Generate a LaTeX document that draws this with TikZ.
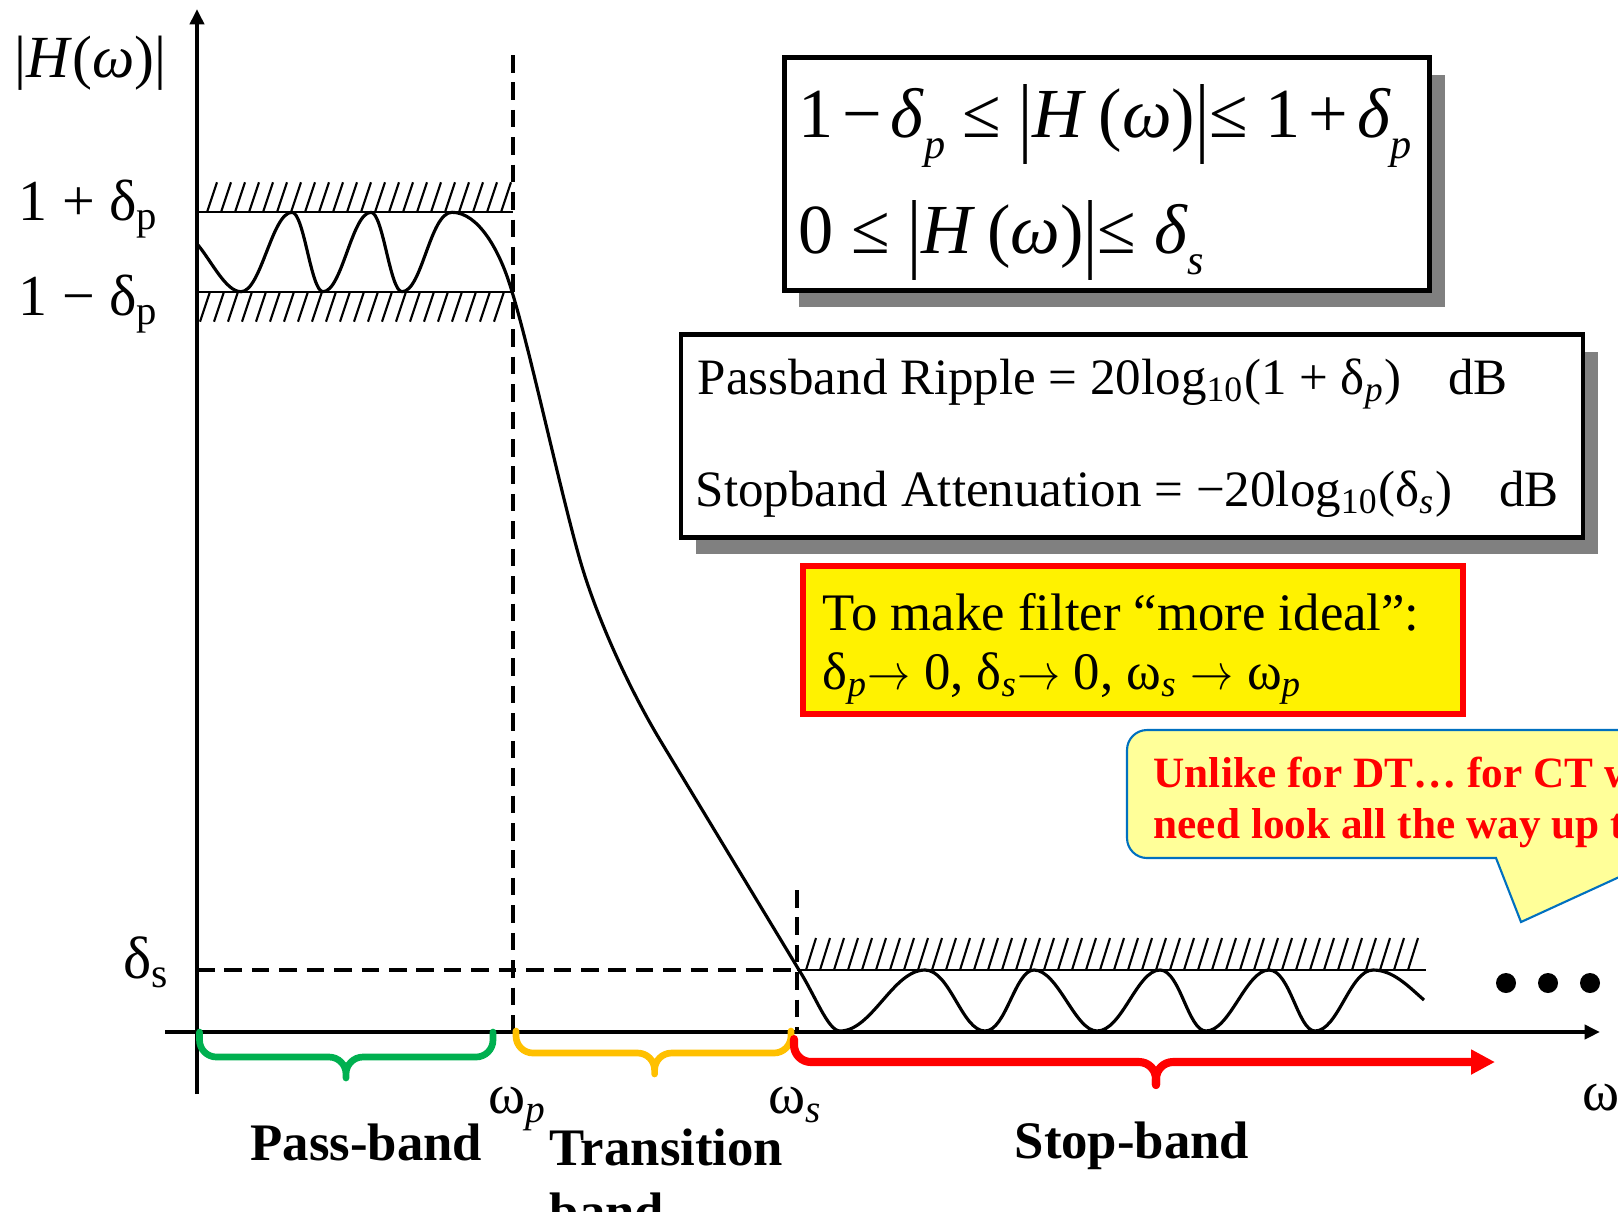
\documentclass[tikz,border=0pt]{standalone}
\usepackage{fontspec}
\setmainfont{Liberation Serif}
\usepackage{graphicx}
\usetikzlibrary{arrows.meta, shadows, positioning}

\definecolor{passgreen}{HTML}{00B050}
\definecolor{transyellow}{HTML}{FFC000}
\definecolor{stopred}{HTML}{FF0000}
\definecolor{notefill}{HTML}{FFFF99}
\definecolor{noteblue}{HTML}{0070C0}
\definecolor{shadegray}{HTML}{808080}

\newcommand{\fs}[1]{\fontsize{#1}{#1}\selectfont}
\newcommand{\lo}[1]{\textsubscript{#1}}
\newcommand{\sublow}[1]{\raisebox{-0.3em}{\fontsize{12}{12}\selectfont\textit{#1}}}
\newcommand{\tbar}{\raisebox{-0.12em}{\scalebox{1}[1.25]{|}}}
\newcommand{\goesto}{\scalebox{0.85}[1]{$\rightarrow$}}
\newcommand{\tsp}{\hspace{0.12em}}

\tikzset{
  lbl/.style={inner sep=0pt, anchor=base west},
  resp/.style={line width=0.9pt, line join=round},
  axisline/.style={line width=1.1pt, -{Triangle[length=4.4pt, width=4pt]}},
  guide/.style={line width=1.1pt, dash pattern=on 5pt off 2.8pt},
  limit/.style={line width=0.6pt},
  hatch/.style={line width=0.6pt},
  bandbrace/.style={line width=1.9pt, line cap=round, rounded corners=0.17cm},
  specbox/.style={draw, line width=1.4pt, fill=white, inner sep=0pt,
    drop shadow={opacity=1, fill=shadegray, shadow xshift=0.15cm, shadow yshift=-0.17cm}},
  goalbox/.style={draw=stopred, line width=1.7pt, fill=yellow, inner sep=0pt},
  ctnote/.style={draw=noteblue, line width=0.6pt, fill=notefill},
  bigdot/.style={circle, fill, inner sep=0pt, minimum size=0.2cm}
}

\begin{document}
\begin{tikzpicture}[x=0.01cm, y=-0.01cm]
\useasboundingbox (0,0) rectangle (1618,1211);
\clip (0,0) rectangle (1618,1211);

% axes
\coordinate (O) at (197,1032);
\coordinate (ytop) at (197,9);
\coordinate (ybot) at (197,1094);
\coordinate (xleft) at (165,1032);
\coordinate (xright) at (1600,1032);
\draw[axisline] (ybot) -- (ytop);
\draw[axisline] (xleft) -- (xright);

% band edges
\coordinate (wpTop) at (513,55);
\coordinate (wpBot) at (513,1032);
\coordinate (wsTop) at (797,890);
\coordinate (wsBot) at (797,1032);
\coordinate (dsL) at (197,970);
\coordinate (dsR) at (797,970);
\draw[guide] (wpTop) -- (wpBot);
\draw[guide] (wsTop) -- (wsBot);
\draw[guide] (dsL) -- (dsR);

% tolerance limits
\draw[limit] (197,212.3) -- (513,212.3);
\draw[limit] (197,291.7) -- (513,291.7);
\draw[limit] (dsR) -- (1426,970);
\foreach \x in {207,221,...,501} \draw[hatch] (\x,212.3) -- ++(10,-30);
\foreach \x in {210,224,...,510} \draw[hatch] (\x,291.7) -- ++(-10,30);
\foreach \x in {806,820,...,1418} \draw[hatch] (\x,970) -- ++(10,-32);

% magnitude response
\draw[resp] (198,245) .. controls (212,262) and (226,291.7) .. (241,291.7)
  .. controls (261,291.7) and (272,212.3) .. (292,212.3)
  .. controls (304,212.3) and (311,291.7) .. (323,291.7)
  .. controls (342,291.7) and (352,212.3) .. (371,212.3)
  .. controls (383,212.3) and (390,291.7) .. (402,291.7)
  .. controls (422,291.7) and (430,212.3) .. (452,212.3)
  .. controls (478,212.3) and (500,250) .. (512,291.7)
  .. controls (530,350) and (560,490) .. (580,560)
  .. controls (597,619) and (630,690) .. (660,740)
  -- (799,970)
  .. controls (815,995) and (828,1031) .. (840,1031)
  .. controls (872,1031) and (893,970) .. (925,970)
  .. controls (950,970) and (962,1031) .. (985,1031)
  .. controls (1006,1031) and (1015,970) .. (1034,970)
  .. controls (1058,970) and (1075,1031) .. (1097,1031)
  .. controls (1122,1031) and (1137,970) .. (1160,970)
  .. controls (1180,970) and (1188,1031) .. (1206,1031)
  .. controls (1230,1031) and (1246,970) .. (1269,970)
  .. controls (1290,970) and (1298,1031) .. (1315,1031)
  .. controls (1338,1031) and (1350,970) .. (1373,970)
  .. controls (1393,970) and (1408,986) .. (1424,1000);

% bands
\draw[bandbrace, passgreen] (199.5,1032) -- (199.5,1057) -- (346,1057) -- (346,1078)
  (346,1078) -- (346,1057) -- (493,1057) -- (493,1032);
\draw[bandbrace, transyellow] (516,1031) -- (516,1053) -- (654.6,1053) -- (654.6,1074)
  (654.6,1074) -- (654.6,1053) -- (791,1053) -- (791,1031);
\draw[bandbrace, stopred, line width=2.3pt] (794,1039) -- (794,1062) -- (1156,1062) -- (1156,1085);
\draw[bandbrace, stopred, line width=2.3pt, -{Triangle[length=6.8pt, width=6.7pt]}]
  (1156,1085) -- (1156,1062) -- (1495,1062);

\foreach \x [count=\i] in {1506,1548,1590} \node[bigdot] (dot\i) at (\x,983) {};

% axis labels
\node[lbl] (hmag) at (14,77) {\fs{17}|\textit{H}(\textit{ω})|};
\node[lbl] (upperlim) at (18,220) {\fs{16.5}1 + δ\lo{p}};
\node[lbl] (lowerlim) at (18,315) {\fs{16.5}1 − δ\lo{p}};
\node[lbl] (stoplim) at (123,978) {\fs{17}δ\lo{s}};
\node[lbl] (wp) at (488,1113) {\fs{16}ω\lo{\textit{p}}};
\node[lbl] (ws) at (768,1113) {\fs{16}ω\lo{\textit{s}}};
\node[lbl] (wax) at (1582,1110) {\fs{16}ω};
\node[lbl] (passlbl) at (250,1160) {\fs{15}\bfseries Pass-band};
\node[lbl] (translbl) at (549,1165) {\fs{15}\bfseries Transition};
\node[lbl] (transband) at (549,1229) {\fs{15}\bfseries band};
\node[lbl] (stoplbl) at (1014,1158) {\fs{15}\bfseries Stop-band};

% specification boxes
\node[specbox, minimum width=6.455cm, minimum height=2.32cm] (condbox) at (1107,174) {};
\node[lbl] (condA) at (798,137) {\fs{20}1\tsp−\tsp\textit{δ}\sublow{p} ≤ \tbar\textit{H}\,(\textit{ω})\tbar ≤ 1\tsp+\tsp\textit{δ}\sublow{p}};
\node[lbl] (condB) at (798,253) {\fs{20}0 ≤ \tbar\textit{H}\,(\textit{ω})\tbar ≤ \textit{δ}\sublow{s}};

\node[specbox, minimum width=9.015cm, minimum height=2.02cm] (dbbox) at (1132,436) {};
\node[lbl] (rippleline) at (697,394) {\fs{14.5}Passband Ripple = 20log\lo{10}(1 + δ\lo{\textit{p}})\hspace{0.47cm}dB};
\node[lbl] (attenline) at (695,506) {\fs{14.5}Stopband Attenuation = −20log\lo{10}(δ\lo{\textit{s}})\hspace{0.47cm}dB};

\node[goalbox, minimum width=6.6cm, minimum height=1.485cm] (idealbox) at (1133,640) {};
\node[lbl] (idealA) at (822,630) {\fs{15}To make filter “more ideal”:};
\node[lbl] (idealB) at (822,689) {\fs{15}δ\lo{\textit{p}}\goesto{} 0, δ\lo{\textit{s}}\goesto{} 0, ω\lo{\textit{s}} \goesto{} ω\lo{\textit{p}}};

% note
\draw[ctnote] (1700,730) [rounded corners=0.2cm] -- (1127,730) -- (1127,858) -- (1440,858)
  [sharp corners] -- (1496,858) -- (1521,922) -- (1700,840) -- cycle;
\node[lbl, text=stopred] (ctA) at (1153,787) {\fs{12.3}\bfseries Unlike for DT… for CT w};
\node[lbl, text=stopred] (ctB) at (1153,838) {\fs{12.3}\bfseries need look all the way up t};
\end{tikzpicture}
\end{document}
